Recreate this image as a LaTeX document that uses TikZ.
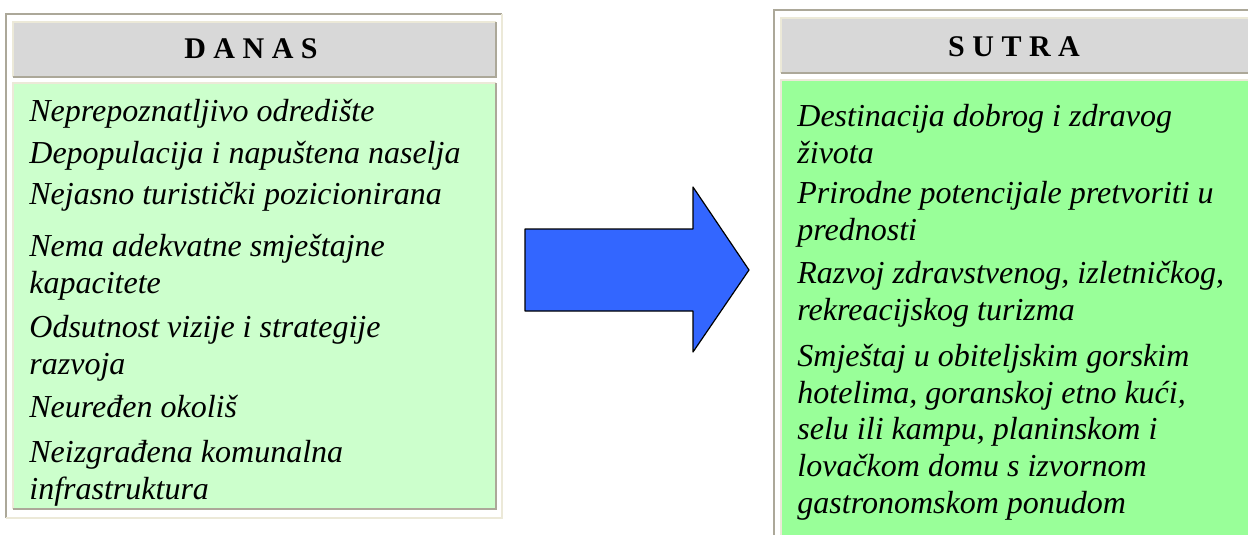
\documentclass[tikz,border=0pt]{standalone}
\usepackage{fontspec}
\setmainfont{Liberation Serif}
\usepackage{tkz-euclide}
\definecolor{paleGreen}{HTML}{CCFFCC}
\definecolor{liteGreen}{HTML}{99FF99}
\definecolor{headGray}{HTML}{D8D8D8}
\definecolor{edgeDark}{HTML}{ACA899}
\definecolor{edgeLight}{HTML}{ECE9D8}
\definecolor{arrowBlue}{HTML}{3366FF}

\begin{document}
\begin{tikzpicture}[x=.5pt,y=-.5pt,
  dark/.style={draw=edgeDark,line width=1pt},
  light/.style={draw=edgeLight,line width=1pt},
  head/.style={anchor=base,inner sep=0pt,font=\fontsize{15}{18}\selectfont\bfseries},
  item/.style={anchor=base west,align=left,inner sep=0pt,font=\fontsize{16}{18.3}\selectfont\itshape}]
\useasboundingbox (0,0) rectangle (1248,535);
\clip (0,0) rectangle (1248,535);
\tkzSetUpLine[line width=.6pt,color=black]

\draw[dark] (6,518) |- (502,14);
\draw[light] (6,518) -| (502,14);
\fill[headGray] (13,22) rectangle (496,77);
\draw[light] (13,77) |- (496,22);
\draw[dark] (13,77) -| (496,22);
\fill[paleGreen] (13,83) rectangle (496,509);
\draw[light] (13,509) |- (496,83);
\draw[dark] (13,509) -| (496,83);

\draw[dark] (774,545) |- (1260,10);
\fill[headGray] (781,18) rectangle (1255,73);
\draw[light] (781,73) |- (1255,18);
\draw[dark] (781,73) -| (1255,18);
\fill[liteGreen] (781,80) rectangle (1255,545);
\draw[light] (781,545) |- (1255,80);

\node[head] (danas) at (251,59) {D A N A S};
\node[head] (sutra) at (1014,57) {S U T R A};

% base anchor sits on the last line
\node[item] (l1) at (29,122) {Neprepoznatljivo odredište};
\node[item] (l2) at (29,163) {Depopulacija i napuštena naselja};
\node[item] (l3) at (29,205) {Nejasno turistički pozicionirana};
\node[item] (l4) at (29,293) {Nema adekvatne smještajne\\kapacitete};
\node[item] (l5) at (29,374) {Odsutnost vizije i strategije\\razvoja};
\node[item] (l6) at (29,417) {Neuređen okoliš};
\node[item] (l7) at (29,499) {Neizgrađena komunalna\\infrastruktura};

\node[item] (r1) at (797,163) {Destinacija dobrog i zdravog\\života};
\node[item] (r2) at (797,240) {Prirodne potencijale pretvoriti u\\prednosti};
\node[item] (r3) at (797,320) {Razvoj zdravstvenog, izletničkog,\\rekreacijskog turizma};
\node[item] (r4) at (797,513) {Smještaj u obiteljskim gorskim\\hotelima, goranskoj etno kući,\\selu ili kampu, planinskom i\\lovačkom domu s izvornom\\gastronomskom ponudom};

\tkzDefPoints{525/229/A,693/229/B,693/187/C,749/270/D,693/352/E,693/311/F,525/311/G}
\tkzDrawPolygon[fill=arrowBlue](A,B,C,D,E,F,G)

\end{tikzpicture}
\end{document}
